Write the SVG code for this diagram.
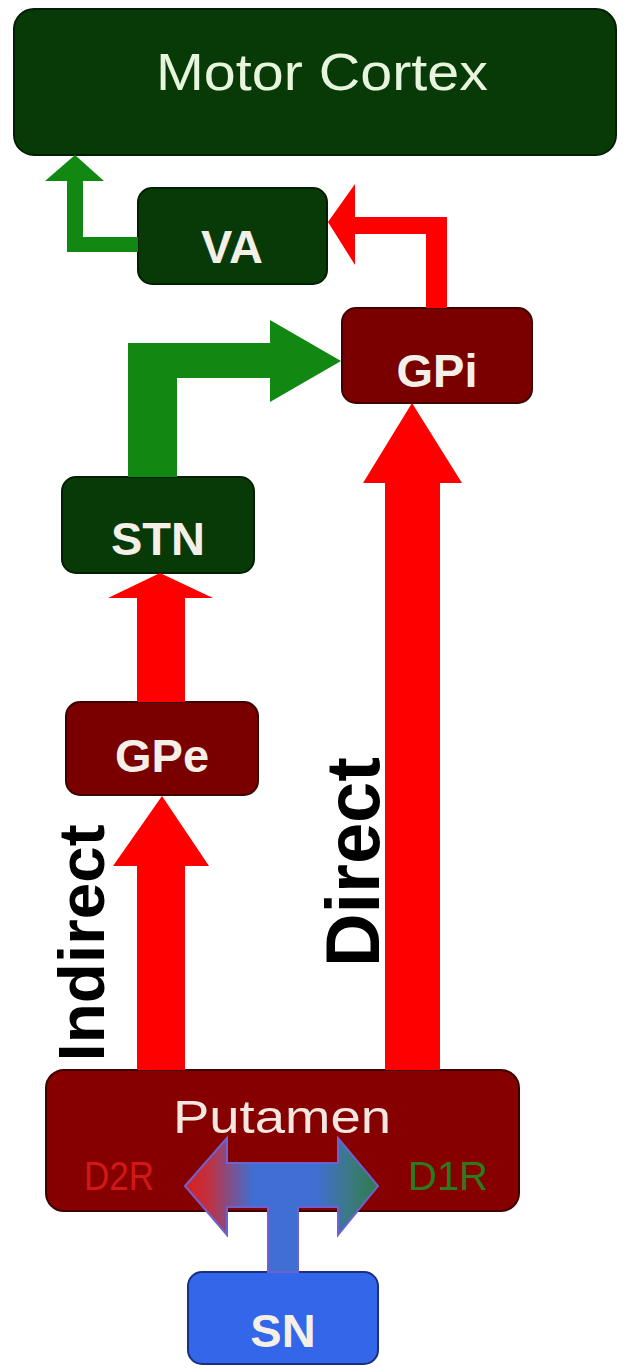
<svg xmlns="http://www.w3.org/2000/svg" width="626" height="1368" viewBox="0 0 626 1368">
<style>
.g{fill:#083a08;stroke:#031f03;stroke-width:2}
.r{fill:#7a0000;stroke:#3f0000;stroke-width:2}
.lbl{font-family:"Liberation Sans",Arial,sans-serif;font-weight:bold;font-size:47px;fill:#f4f0e8;text-anchor:middle}
.side{font-family:"Liberation Sans",Arial,sans-serif;font-weight:bold;fill:#000;text-anchor:middle}
.red{fill:#ff0000}
.grn{fill:#118811}
</style>
<defs>
<linearGradient id="bg" gradientUnits="userSpaceOnUse" x1="185" y1="0" x2="378" y2="0">
<stop offset="0" stop-color="#d82020"/>
<stop offset="0.12" stop-color="#c23040"/>
<stop offset="0.35" stop-color="#3f6fd2"/>
<stop offset="0.68" stop-color="#3f6fd2"/>
<stop offset="0.88" stop-color="#3a7a78"/>
<stop offset="1" stop-color="#2e7a4a"/>
</linearGradient>
</defs>
<rect width="626" height="1368" fill="#ffffff"/>

<g id="motor-cortex">
<rect class="g" x="14" y="9" width="602" height="146" rx="20"/>
<text x="322" y="90" font-family="'Liberation Sans',Arial,sans-serif" font-size="52" fill="#e6f5dc" text-anchor="middle" textLength="332" lengthAdjust="spacingAndGlyphs">Motor Cortex</text>
</g>
<g id="va">
<rect class="g" x="138" y="188" width="189" height="96" rx="14"/>
<text class="lbl" x="232" y="263">VA</text>
</g>
<g id="gpi">
<rect class="r" x="342" y="308" width="190" height="95" rx="14"/>
<text class="lbl" x="437" y="387">GPi</text>
</g>
<g id="stn">
<rect class="g" x="62" y="477" width="192" height="96" rx="14"/>
<text class="lbl" x="158" y="555">STN</text>
</g>
<g id="gpe">
<rect class="r" x="66" y="702" width="192" height="93" rx="14"/>
<text class="lbl" x="162" y="772">GPe</text>
</g>
<g id="putamen">
<rect x="46" y="1070" width="473" height="141" rx="18" fill="#860000" stroke="#3f0000" stroke-width="2"/>
<text x="282" y="1133" font-family="'Liberation Sans',Arial,sans-serif" font-size="46" fill="#f4e6e0" text-anchor="middle" textLength="218" lengthAdjust="spacingAndGlyphs">Putamen</text>
<text x="119" y="1190" font-family="'Liberation Sans',Arial,sans-serif" font-size="40" fill="#d01818" text-anchor="middle" textLength="70" lengthAdjust="spacingAndGlyphs">D2R</text>
<text x="448" y="1190" font-family="'Liberation Sans',Arial,sans-serif" font-size="40" fill="#2c7a1c" text-anchor="middle" textLength="80" lengthAdjust="spacingAndGlyphs">D1R</text>
</g>
<g id="sn">
<rect x="188" y="1272" width="190" height="92" rx="14" fill="#3366e8" stroke="#1a2f80" stroke-width="2"/>
<text class="lbl" x="283" y="1347">SN</text>
</g>

<g id="connectors">
<!-- VA -> Motor Cortex (green) -->
<path class="grn" d="M138,237 L138,252 L67,252 L67,181 L45,181 L75,155 L104,181 L83,181 L83,237 Z"/>
<!-- GPi -> VA (red) -->
<path class="red" d="M447,308 L426,308 L426,234 L355,234 L355,265 L328,222 L355,184 L355,217 L447,217 Z"/>
<!-- STN -> GPi (green) -->
<path class="grn" d="M128,477 L128,343 L270,343 L270,320 L341,361 L270,402 L270,378 L177,378 L177,477 Z"/>
<!-- Putamen -> GPi (Direct, red) -->
<path class="red" d="M385,1070 L385,483 L363,483 L412,403 L462,483 L440,483 L440,1070 Z"/>
<!-- GPe -> STN (red) -->
<path class="red" d="M137,702 L137,598 L108,598 L160,573 L213,598 L185,598 L185,702 Z"/>
<!-- Putamen -> GPe (Indirect, red) -->
<path class="red" d="M137,1070 L137,866 L113,866 L162,796 L209,866 L185,866 L185,1070 Z"/>
<!-- SN -> Putamen (double arrow, dopamine) -->
<path d="M185,1186 L227,1138 L227,1163 L338,1163 L338,1138 L378,1186 L338,1235 L338,1207 L298,1207 L298,1272 L268,1272 L268,1207 L227,1207 L227,1235 Z" fill="url(#bg)" stroke="#6c62d0" stroke-width="2" stroke-linejoin="miter"/>
<text class="side" transform="translate(104,943) rotate(-90)" font-size="64" textLength="237" lengthAdjust="spacingAndGlyphs">Indirect</text>
<text class="side" transform="translate(379,862) rotate(-90)" font-size="76" textLength="210" lengthAdjust="spacingAndGlyphs">Direct</text>
</g>
</svg>
